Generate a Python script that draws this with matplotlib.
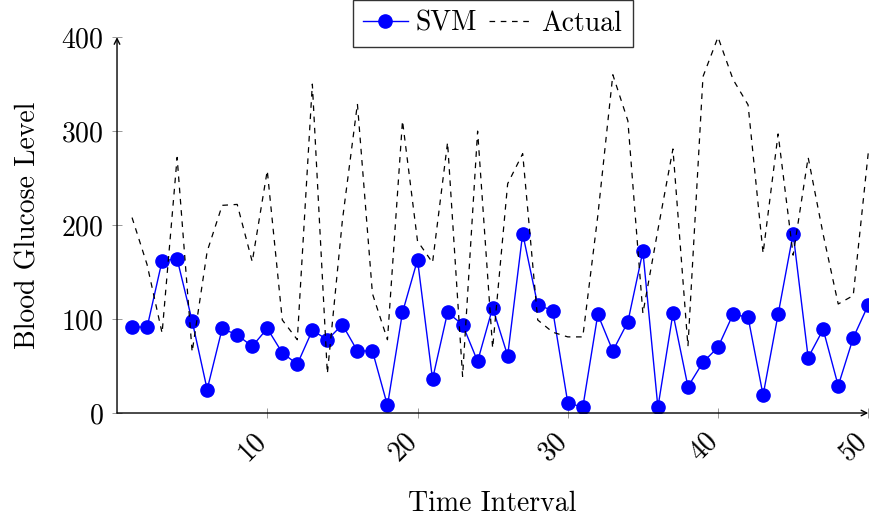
import matplotlib

matplotlib.use("Agg")
import matplotlib.pyplot as plt
import matplotlib.transforms as mtransforms
import numpy as np

plt.rcParams["font.family"] = ["cmr10", "DejaVu Serif"]
plt.rcParams["mathtext.fontset"] = "cm"
plt.rcParams["axes.formatter.use_mathtext"] = True

# --- data --------------------------------------------------------------------
t = np.arange(1, 51)
svm = [92, 91, 162, 164, 98, 25, 90, 83, 71, 90,
       64, 52, 88, 78, 94, 66, 66, 8, 107, 163,
       36, 107, 94, 55, 112, 61, 191, 115, 109, 11,
       6, 105, 66, 97, 172, 6, 106, 28, 54, 70,
       105, 102, 19, 105, 191, 59, 89, 29, 80, 115]
actual = [208, 158, 85, 272, 65, 172, 221, 222, 161, 258,
          99, 78, 350, 42, 205, 329, 127, 78, 311, 183,
          160, 288, 39, 300, 69, 244, 276, 99, 86, 81,
          81, 210, 360, 311, 106, 195, 281, 71, 358, 400,
          355, 328, 170, 297, 168, 272, 190, 116, 125, 277]
xticks = [10, 20, 30, 40, 50]
yticks = [0, 100, 200, 300, 400]

FS = 20

fig = plt.figure(figsize=(8.7, 5.16), dpi=100)
ax = fig.add_axes([0.1345, 0.1996, 0.998 - 0.1345, 0.928 - 0.1996])

ax.plot(t, svm, "-o", color="#0000ff", lw=1.0, ms=9.5, label="SVM")
ax.plot(t, actual, color="black", lw=0.9, ls=(0, (4.5, 4.5)), label="Actual",
        clip_on=False)

ax.set_xlim(0, 50)
ax.set_ylim(0, 400)
ax.set_xticks(xticks)
ax.set_yticks(yticks)
ax.set_xticklabels([str(v) for v in xticks], rotation=45, ha="right",
                   va="center", rotation_mode="anchor")
ax.tick_params(direction="inout", length=7, width=0.6, color="#888888",
               labelsize=FS, pad=6)
ax.tick_params(axis="x", pad=12)
# nudge rotated labels a little left/down, as in the pgfplots original
shift = mtransforms.ScaledTranslation(-5 / 100, -2 / 100, fig.dpi_scale_trans)
for lab in ax.get_xticklabels():
    lab.set_transform(lab.get_transform() + shift)

for s in ("top", "right", "left", "bottom"):
    ax.spines[s].set_visible(False)
# axis lines with arrow tips, pgfplots style
ax.annotate("", xy=(1.0, 0), xytext=(0, 0), xycoords="axes fraction",
            arrowprops=dict(arrowstyle="->", lw=1.0, color="black",
                            shrinkA=0, shrinkB=0, mutation_scale=10))
ax.annotate("", xy=(0, 1.0), xytext=(0, 0), xycoords="axes fraction",
            arrowprops=dict(arrowstyle="->", lw=1.0, color="black",
                            shrinkA=0, shrinkB=0, mutation_scale=10))

ax.set_xlabel("Time Interval", fontsize=FS, labelpad=18)
ax.set_ylabel("Blood Glucose Level", fontsize=FS, labelpad=14)

leg = ax.legend(loc="upper center", bbox_to_anchor=(0.5, 1.099), ncol=2,
                fontsize=FS, frameon=True, fancybox=False, borderaxespad=0,
                handlelength=1.6, handletextpad=0.3, columnspacing=0.4,
                borderpad=0.38)
leg.get_frame().set_edgecolor("black")
leg.get_frame().set_linewidth(1.0)

fig.savefig("out.png", dpi=100)
